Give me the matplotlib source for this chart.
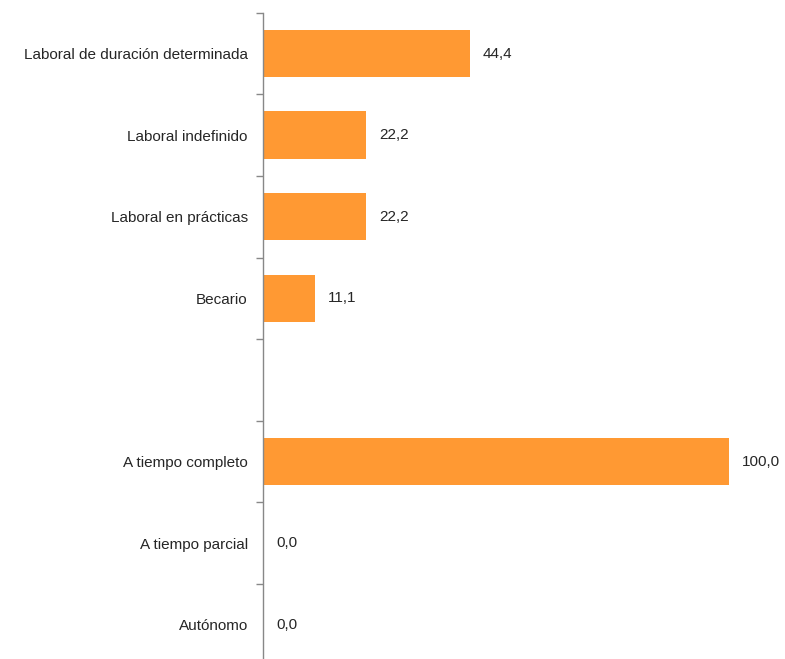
import matplotlib.pyplot as plt
import numpy as np

# categorías (el hueco vacío separa los dos bloques)
categorias = ["Laboral de duración determinada", "Laboral indefinido",
              "Laboral en prácticas", "Becario", "",
              "A tiempo completo", "A tiempo parcial", "Autónomo"]
valores = [44.4, 22.2, 22.2, 11.1, None, 100.0, 0.0, 0.0]

color_barra = "#FF9933"
fuente = ["Liberation Sans Narrow", "Liberation Sans", "DejaVu Sans"]

fig = plt.figure(figsize=(7.85, 6.59), dpi=100)
ax = fig.add_axes([263 / 785, 1 - 665.5 / 659, 512.6 / 785, 652.8 / 659])

pos = np.arange(len(categorias))
for i, v in enumerate(valores):
    if v is None:
        continue
    ax.barh(pos[i], v, height=0.58, color=color_barra, edgecolor="none")
    ax.text(v + 2.8, pos[i], f"{v:.1f}".replace(".", ","), va="center", ha="left",
            fontsize=11, color="#262626", family=fuente)

ax.set_xlim(0, 110)
ax.set_ylim(len(categorias) - 0.5, -0.5)

# etiquetas centradas en cada barra, marcas en los límites entre categorías
ax.set_yticks(pos)
ax.set_yticklabels(categorias, family=fuente, fontsize=11, color="#262626")
ax.tick_params(axis="y", which="major", length=0, pad=11)
ax.set_yticks(np.arange(-0.5, len(categorias), 1), minor=True)
ax.tick_params(axis="y", which="minor", length=5, color="#888888", width=1)

ax.set_xticks([])
for lado in ["top", "right", "bottom"]:
    ax.spines[lado].set_visible(False)
ax.spines["left"].set_color("#888888")
ax.spines["left"].set_linewidth(1)

fig.savefig("out.png", dpi=100)
